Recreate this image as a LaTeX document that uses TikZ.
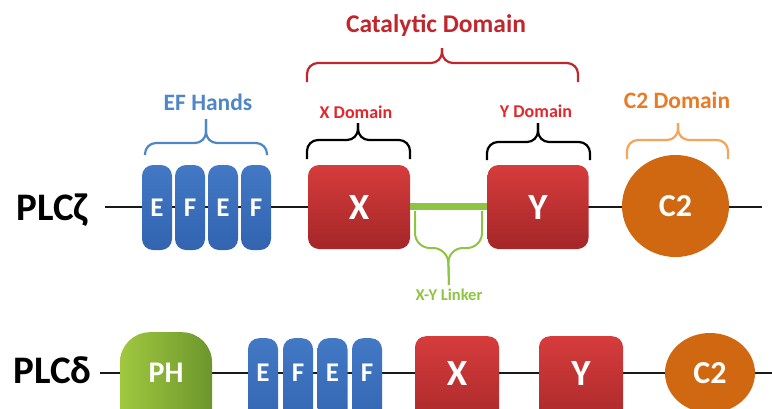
\documentclass[tikz,border=0pt]{standalone}
\usepackage{fontspec}
\setmainfont{Carlito}
\usetikzlibrary{shapes.geometric,positioning}
\definecolor{EFBlue}{RGB}{66,120,196}
\definecolor{EFBlueDark}{RGB}{50,100,176}
\definecolor{HandsBlue}{RGB}{79,134,198}
\definecolor{BoxRedTop}{RGB}{214,60,60}
\definecolor{BoxRedBot}{RGB}{164,38,40}
\definecolor{CatRed}{RGB}{192,38,44}
\definecolor{DomRed}{RGB}{227,38,43}
\definecolor{LinkGreen}{RGB}{141,196,66}
\definecolor{PHGreenL}{RGB}{160,200,64}
\definecolor{PHGreenR}{RGB}{108,150,44}
\definecolor{CTwoOrange}{RGB}{208,104,18}
\definecolor{CTwoText}{RGB}{233,123,38}
\definecolor{CTwoBrace}{RGB}{244,164,92}

\begin{document}
\begin{tikzpicture}[x=1pt,y=-1pt,
    backbone/.style={line width=2pt,black!90},
    efhand/.style={top color=EFBlue,bottom color=EFBlueDark,rounded corners=11pt,
      minimum width=30pt,inner sep=0pt,text=white,font=\bfseries\fontsize{27}{27}\selectfont},
    redbox/.style={top color=BoxRedTop,bottom color=BoxRedBot,rounded corners=11pt,
      inner sep=0pt,text=white,font=\bfseries\fontsize{37}{37}\selectfont},
    ctwo/.style={ellipse,fill=CTwoOrange,inner sep=0pt,text=white,
      font=\bfseries\fontsize{32}{32}\selectfont},
    brace/.style={line width=2.2pt,rounded corners=11pt},
    protein/.style={anchor=base west,font=\bfseries\fontsize{39}{39}\selectfont},
    biglabel/.style={anchor=base,font=\bfseries\fontsize{23.5}{24}\selectfont},
    domlabel/.style={anchor=base,font=\bfseries\fontsize{18}{18}\selectfont,text=DomRed}]
  \useasboundingbox (0,0) rectangle (772,408);
  \clip (0,0) rectangle (772,408);

  % PLC zeta
  \coordinate (zstart) at (105,207);
  \coordinate (zend) at (762,207);
  \draw[backbone] (zstart) -- (zend);
  \node[protein] (zeta) at (13,220) {PLCζ};
  \node[efhand,minimum height=85pt] (zE1) at (157,207.5) {E};
  \node[efhand,minimum height=85pt] (zF1) at (190,207.5) {F};
  \node[efhand,minimum height=85pt] (zE2) at (223,207.5) {E};
  \node[efhand,minimum height=85pt] (zF2) at (256,207.5) {F};
  \node[redbox,minimum width=102pt,minimum height=84pt] (zX) at (359,207) {X};
  \node[redbox,minimum width=101pt,minimum height=84pt] (zY) at (538,207) {Y};
  \node[ctwo,minimum width=107pt,minimum height=102pt] (zC2) at (675.5,206) {C2};
  \draw[line width=7pt,LinkGreen] ([yshift=1pt]zX.east) -- ([yshift=1pt]zY.west);

  % braces above
  \draw[brace,HandsBlue] (145,155) |- (206,143) -- (206,119);
  \draw[brace,HandsBlue] (267,155) |- (206,143) -- (206,119);
  \node[biglabel,text=HandsBlue] (efhands) at (208,110) {EF Hands};
  \draw[brace,CatRed] (307,82) |- (442,63) -- (442,48);
  \draw[brace,CatRed] (578,82) |- (442,63) -- (442,48);
  \node[biglabel,font=\bfseries\fontsize{25.5}{26}\selectfont,text=CatRed] (catal) at (436,32) {Catalytic Domain};
  \draw[brace,black] (307,159) |- (358,140) -- (358,123);
  \draw[brace,black] (410,159) |- (358,140) -- (358,123);
  \node[domlabel] (xdom) at (356,118) {X Domain};
  \draw[brace,black] (487,160) |- (538,142) -- (538,123);
  \draw[brace,black] (590,160) |- (538,142) -- (538,123);
  \node[domlabel] (ydom) at (536,117) {Y Domain};
  \draw[brace,CTwoBrace] (627,159) |- (678,140) -- (678,123);
  \draw[brace,CTwoBrace] (728,159) |- (678,140) -- (678,123);
  \node[biglabel,text=CTwoText] (c2dom) at (677,108) {C2 Domain};

  % linker
  \node[anchor=base,font=\bfseries\fontsize{16.5}{17}\selectfont,text=LinkGreen] (lnk) at (449,300) {X-Y Linker};
  \draw[brace,LinkGreen,line width=2pt,rounded corners=15pt] (415,211) |- (448,248) -- (lnk.north);
  \draw[brace,LinkGreen,line width=2pt,rounded corners=15pt] (482,211) |- (448,248) -- (lnk.north);

  % PLC delta
  \coordinate (dstart) at (100,373);
  \coordinate (dend) at (772,373);
  \draw[backbone] (dstart) -- (dend);
  \node[protein] (delta) at (10,383) {PLCδ};
  \node[left color=PHGreenL,right color=PHGreenR,rounded corners=30pt,anchor=north,
    minimum width=92pt,minimum height=150pt,text depth=68pt,inner sep=0pt,text=white,
    font=\bfseries\fontsize{30}{30}\selectfont] (dPH) at (166,332) {PH};
  \node[efhand,anchor=north,minimum height=100pt,text depth=30pt] (dE1) at (263,338) {E};
  \node[efhand,anchor=north,minimum height=100pt,text depth=30pt] (dF1) at (298,338) {F};
  \node[efhand,anchor=north,minimum height=100pt,text depth=30pt] (dE2) at (332.5,338) {E};
  \node[efhand,anchor=north,minimum height=100pt,text depth=30pt] (dF2) at (367,338) {F};
  \node[redbox,anchor=north,minimum width=84pt,minimum height=100pt,text depth=26pt] (dX) at (457,336) {X};
  \node[redbox,anchor=north,minimum width=84pt,minimum height=100pt,text depth=26pt] (dY) at (581,336) {Y};
  \node[ctwo,minimum width=90pt,minimum height=80pt] (dC2) at (710,373) {C2};
\end{tikzpicture}
\end{document}
